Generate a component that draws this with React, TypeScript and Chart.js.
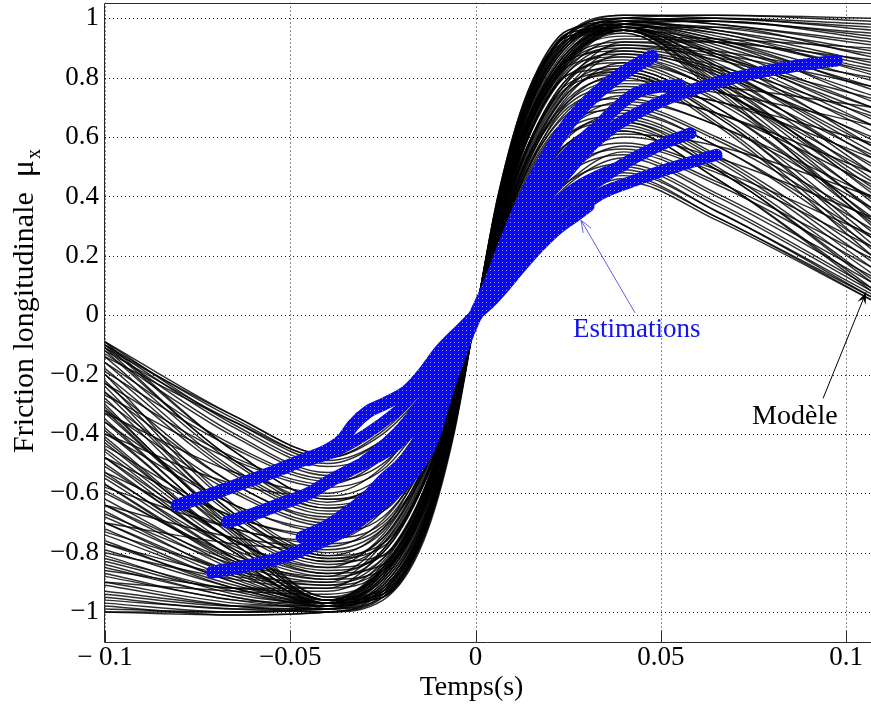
import React, { useEffect, useRef } from 'react';
import { Chart, registerables } from 'chart.js';

Chart.register(...registerables);

const X_MIN = -0.1;
const X_MAX = 0.10668;
const Y_MIN = -1.1044;
const Y_MAX = 1.0532;

const X_TICKS = [-0.1, -0.05, 0, 0.05, 0.1];
const X_TICK_LABELS = ['\u2212 0.1', '\u22120.05', '0', '0.05', '0.1'];
const Y_TICKS = [-1, -0.8, -0.6, -0.4, -0.2, 0, 0.2, 0.4, 0.6, 0.8, 1];
const Y_TICK_LABELS = ['\u22121', '\u22120.8', '\u22120.6', '\u22120.4', '\u22120.2', '0', '0.2', '0.4', '0.6', '0.8', '1'];

const X_TITLE = 'Temps(s)';
const Y_TITLE = 'Friction longitudinale  ';
const Y_TITLE_SYMBOL = '\u03bc';
const Y_TITLE_SUB = 'x';
const EST_LABEL = 'Estimations';
const MODEL_LABEL = 'Mod\u00e8le';

// every model curve passes through the origin
const ORIGIN = [0, 0];

// model curves, left half: y at these x (then the origin)
const MODEL_LEFT_X = [-0.1, -0.065, -0.04, -0.025, -0.014, -0.006];
const MODEL_LEFT = [
  [-1.00, -1.01, -1.00, -0.94, -0.73, -0.38],
  [-1.00, -1.00, -0.99, -0.90, -0.68, -0.34],
  [-0.99, -1.00, -0.98, -0.87, -0.63, -0.30],
  [-0.98, -1.01, -1.00, -0.95, -0.75, -0.40],
  [-0.97, -1.00, -0.97, -0.85, -0.61, -0.29],
  [-0.96, -0.99, -1.00, -0.93, -0.72, -0.37],
  [-0.95, -0.99, -0.99, -0.91, -0.69, -0.35],
  [-0.94, -0.98, -0.98, -0.88, -0.65, -0.32],
  [-0.93, -0.98, -1.00, -0.96, -0.76, -0.41],
  [-0.91, -0.98, -0.99, -0.92, -0.71, -0.36],
  [-0.90, -0.97, -0.98, -0.89, -0.66, -0.33],
  [-0.88, -0.96, -0.99, -0.95, -0.74, -0.39],
  [-0.87, -0.96, -0.97, -0.85, -0.60, -0.28],
  [-0.85, -0.95, -0.99, -0.93, -0.72, -0.37],
  [-0.84, -0.95, -0.98, -0.90, -0.67, -0.33],
  [-0.82, -0.93, -0.98, -0.94, -0.74, -0.39],
  [-0.81, -0.94, -0.97, -0.86, -0.62, -0.30],
  [-0.79, -0.92, -0.98, -0.92, -0.70, -0.35],
  [-0.77, -0.91, -0.97, -0.95, -0.75, -0.40],
  [-0.76, -0.92, -0.97, -0.88, -0.64, -0.31],
  [-0.74, -0.90, -0.98, -0.93, -0.71, -0.36],
  [-0.72, -0.90, -0.96, -0.84, -0.59, -0.28],
  [-0.70, -0.89, -0.97, -0.91, -0.68, -0.34],
  [-0.68, -0.87, -0.97, -0.95, -0.73, -0.38],
  [-0.66, -0.88, -0.97, -0.87, -0.63, -0.31],
  [-0.64, -0.86, -0.98, -0.92, -0.70, -0.35],
  [-0.62, -0.85, -0.97, -0.89, -0.66, -0.33],
  [-0.59, -0.83, -0.97, -0.95, -0.74, -0.39],
  [-0.57, -0.84, -0.96, -0.85, -0.61, -0.29],
  [-0.55, -0.82, -0.97, -0.93, -0.71, -0.36],
  [-0.53, -0.82, -0.97, -0.88, -0.65, -0.32],
  [-0.50, -0.80, -0.96, -0.94, -0.73, -0.37],
  [-0.48, -0.80, -0.96, -0.86, -0.62, -0.30],
  [-0.46, -0.79, -0.97, -0.91, -0.69, -0.34],
  [-0.43, -0.77, -0.96, -0.94, -0.72, -0.38],
  [-0.41, -0.77, -0.96, -0.87, -0.64, -0.31],
  [-0.38, -0.75, -0.96, -0.92, -0.70, -0.35],
  [-0.35, -0.74, -0.96, -0.89, -0.66, -0.33],
  [-0.32, -0.72, -0.95, -0.93, -0.72, -0.37],
  [-0.30, -0.73, -0.95, -0.86, -0.62, -0.30],
  [-0.90, -0.93, -0.94, -0.87, -0.66, -0.34],
  [-0.86, -0.92, -0.93, -0.83, -0.60, -0.30],
  [-0.83, -0.92, -0.92, -0.79, -0.56, -0.27],
  [-0.80, -0.89, -0.92, -0.86, -0.65, -0.33],
  [-0.77, -0.88, -0.91, -0.82, -0.59, -0.29],
  [-0.73, -0.86, -0.91, -0.85, -0.63, -0.32],
  [-0.70, -0.87, -0.90, -0.77, -0.54, -0.26],
  [-0.67, -0.84, -0.90, -0.84, -0.62, -0.31],
  [-0.64, -0.83, -0.89, -0.80, -0.57, -0.28],
  [-0.60, -0.81, -0.89, -0.86, -0.64, -0.33],
  [-0.57, -0.82, -0.88, -0.76, -0.53, -0.25],
  [-0.54, -0.79, -0.88, -0.82, -0.60, -0.30],
  [-0.51, -0.78, -0.87, -0.79, -0.56, -0.27],
  [-0.48, -0.76, -0.87, -0.84, -0.62, -0.32],
  [-0.45, -0.76, -0.86, -0.80, -0.57, -0.28],
  [-0.42, -0.76, -0.85, -0.74, -0.51, -0.24],
  [-0.39, -0.73, -0.85, -0.81, -0.60, -0.30],
  [-0.36, -0.72, -0.84, -0.77, -0.55, -0.27],
  [-0.33, -0.70, -0.83, -0.81, -0.60, -0.31],
  [-0.31, -0.70, -0.83, -0.75, -0.52, -0.25],
  [-0.28, -0.68, -0.82, -0.78, -0.57, -0.29],
  [-0.26, -0.67, -0.82, -0.75, -0.53, -0.26],
  [-0.24, -0.67, -0.81, -0.72, -0.49, -0.23],
  [-0.22, -0.65, -0.81, -0.77, -0.56, -0.28],
  [-0.20, -0.64, -0.80, -0.73, -0.51, -0.25],
  [-0.70, -0.77, -0.79, -0.72, -0.53, -0.27],
  [-0.64, -0.75, -0.78, -0.69, -0.49, -0.24],
  [-0.58, -0.72, -0.77, -0.71, -0.52, -0.26],
  [-0.53, -0.72, -0.76, -0.66, -0.46, -0.22],
  [-0.48, -0.68, -0.75, -0.70, -0.50, -0.25],
  [-0.44, -0.68, -0.74, -0.65, -0.45, -0.21],
  [-0.40, -0.64, -0.73, -0.68, -0.49, -0.24],
  [-0.36, -0.64, -0.72, -0.63, -0.43, -0.20],
  [-0.32, -0.60, -0.71, -0.66, -0.47, -0.23],
  [-0.29, -0.59, -0.70, -0.63, -0.44, -0.21],
  [-0.26, -0.57, -0.69, -0.66, -0.48, -0.24],
  [-0.23, -0.57, -0.68, -0.60, -0.41, -0.19],
  [-0.20, -0.54, -0.67, -0.63, -0.45, -0.22],
  [-0.18, -0.53, -0.66, -0.61, -0.42, -0.20],
  [-0.16, -0.52, -0.65, -0.58, -0.39, -0.18],
  [-0.14, -0.50, -0.65, -0.61, -0.44, -0.21],
  [-0.12, -0.49, -0.64, -0.58, -0.40, -0.19],
  [-0.11, -0.49, -0.63, -0.55, -0.37, -0.17],
  [-0.10, -0.46, -0.62, -0.58, -0.41, -0.20],
  [-0.09, -0.46, -0.62, -0.56, -0.38, -0.18],
  [-0.40, -0.57, -0.61, -0.54, -0.36, -0.17],
  [-0.33, -0.53, -0.60, -0.51, -0.33, -0.15],
  [-0.27, -0.49, -0.58, -0.52, -0.35, -0.17],
  [-0.23, -0.48, -0.57, -0.48, -0.31, -0.14],
  [-0.19, -0.45, -0.56, -0.50, -0.34, -0.16],
  [-0.16, -0.44, -0.55, -0.45, -0.29, -0.13],
  [-0.13, -0.41, -0.54, -0.48, -0.32, -0.15],
  [-0.11, -0.40, -0.53, -0.44, -0.28, -0.13],
  [-0.10, -0.38, -0.51, -0.45, -0.30, -0.14],
  [-0.09, -0.37, -0.50, -0.42, -0.27, -0.12],
  [-0.12, -0.36, -0.49, -0.42, -0.28, -0.13],
  [-0.10, -0.35, -0.48, -0.39, -0.25, -0.11],
  [-0.14, -0.36, -0.48, -0.40, -0.26, -0.12],
  [-0.09, -0.34, -0.47, -0.38, -0.24, -0.11],
  [-0.11, -0.34, -0.47, -0.37, -0.24, -0.10],
];

// model curves, right half: the origin, then y at these x
const MODEL_RIGHT_X = [0.006, 0.014, 0.025, 0.04, 0.065, 0.107];
const MODEL_RIGHT = [
  [0.40, 0.75, 0.95, 1.01, 1.01, 1.00],
  [0.36, 0.70, 0.92, 1.00, 1.01, 0.99],
  [0.33, 0.66, 0.89, 0.99, 1.00, 0.98],
  [0.38, 0.73, 0.94, 1.01, 1.00, 0.97],
  [0.30, 0.62, 0.86, 0.98, 1.00, 0.96],
  [0.39, 0.74, 0.95, 1.00, 0.99, 0.95],
  [0.34, 0.68, 0.91, 0.99, 0.99, 0.94],
  [0.31, 0.63, 0.87, 0.98, 0.99, 0.93],
  [0.37, 0.72, 0.95, 1.00, 0.98, 0.92],
  [0.35, 0.69, 0.92, 1.00, 0.98, 0.91],
  [0.32, 0.65, 0.88, 0.98, 0.97, 0.89],
  [0.40, 0.75, 0.96, 0.99, 0.96, 0.88],
  [0.29, 0.60, 0.85, 0.97, 0.97, 0.87],
  [0.36, 0.71, 0.93, 0.99, 0.96, 0.85],
  [0.33, 0.67, 0.90, 0.99, 0.95, 0.84],
  [0.38, 0.73, 0.95, 0.99, 0.94, 0.82],
  [0.30, 0.62, 0.86, 0.97, 0.95, 0.81],
  [0.35, 0.69, 0.92, 0.98, 0.93, 0.79],
  [0.39, 0.74, 0.96, 0.98, 0.92, 0.77],
  [0.32, 0.64, 0.88, 0.98, 0.93, 0.76],
  [0.36, 0.70, 0.93, 0.98, 0.91, 0.74],
  [0.28, 0.59, 0.84, 0.96, 0.92, 0.72],
  [0.34, 0.68, 0.91, 0.98, 0.90, 0.70],
  [0.38, 0.72, 0.95, 0.97, 0.88, 0.68],
  [0.31, 0.63, 0.87, 0.97, 0.89, 0.66],
  [0.35, 0.70, 0.92, 0.98, 0.88, 0.64],
  [0.33, 0.66, 0.89, 0.97, 0.87, 0.62],
  [0.39, 0.73, 0.95, 0.97, 0.85, 0.59],
  [0.29, 0.61, 0.85, 0.96, 0.87, 0.57],
  [0.36, 0.71, 0.93, 0.97, 0.84, 0.55],
  [0.32, 0.65, 0.88, 0.97, 0.84, 0.53],
  [0.37, 0.72, 0.94, 0.96, 0.82, 0.50],
  [0.30, 0.62, 0.86, 0.96, 0.83, 0.48],
  [0.34, 0.68, 0.91, 0.97, 0.81, 0.46],
  [0.38, 0.72, 0.94, 0.96, 0.79, 0.43],
  [0.31, 0.64, 0.87, 0.96, 0.80, 0.41],
  [0.35, 0.69, 0.92, 0.96, 0.78, 0.38],
  [0.33, 0.66, 0.89, 0.96, 0.77, 0.35],
  [0.37, 0.71, 0.93, 0.95, 0.75, 0.32],
  [0.30, 0.62, 0.86, 0.95, 0.76, 0.30],
  [0.34, 0.66, 0.87, 0.94, 0.93, 0.90],
  [0.30, 0.60, 0.83, 0.93, 0.92, 0.86],
  [0.27, 0.56, 0.79, 0.92, 0.92, 0.83],
  [0.33, 0.65, 0.86, 0.92, 0.89, 0.80],
  [0.29, 0.59, 0.82, 0.91, 0.88, 0.77],
  [0.32, 0.63, 0.85, 0.91, 0.86, 0.73],
  [0.26, 0.54, 0.77, 0.90, 0.87, 0.70],
  [0.31, 0.62, 0.84, 0.90, 0.84, 0.67],
  [0.28, 0.57, 0.80, 0.89, 0.83, 0.64],
  [0.33, 0.64, 0.86, 0.89, 0.81, 0.60],
  [0.25, 0.53, 0.76, 0.88, 0.82, 0.57],
  [0.30, 0.60, 0.82, 0.88, 0.79, 0.54],
  [0.27, 0.56, 0.79, 0.87, 0.78, 0.51],
  [0.32, 0.62, 0.84, 0.87, 0.76, 0.48],
  [0.28, 0.57, 0.80, 0.86, 0.76, 0.45],
  [0.24, 0.51, 0.74, 0.85, 0.76, 0.42],
  [0.30, 0.60, 0.81, 0.85, 0.73, 0.39],
  [0.27, 0.55, 0.77, 0.84, 0.72, 0.36],
  [0.31, 0.60, 0.81, 0.83, 0.70, 0.33],
  [0.25, 0.52, 0.75, 0.83, 0.70, 0.31],
  [0.29, 0.57, 0.78, 0.82, 0.68, 0.28],
  [0.26, 0.53, 0.75, 0.82, 0.67, 0.26],
  [0.23, 0.49, 0.72, 0.81, 0.67, 0.24],
  [0.28, 0.56, 0.77, 0.81, 0.65, 0.22],
  [0.25, 0.51, 0.73, 0.80, 0.64, 0.20],
  [0.27, 0.53, 0.72, 0.79, 0.77, 0.70],
  [0.24, 0.49, 0.69, 0.78, 0.75, 0.64],
  [0.26, 0.52, 0.71, 0.77, 0.72, 0.58],
  [0.22, 0.46, 0.66, 0.76, 0.72, 0.53],
  [0.25, 0.50, 0.70, 0.75, 0.68, 0.48],
  [0.21, 0.45, 0.65, 0.74, 0.68, 0.44],
  [0.24, 0.49, 0.68, 0.73, 0.64, 0.40],
  [0.20, 0.43, 0.63, 0.72, 0.64, 0.36],
  [0.23, 0.47, 0.66, 0.71, 0.60, 0.32],
  [0.21, 0.44, 0.63, 0.70, 0.59, 0.29],
  [0.24, 0.48, 0.66, 0.69, 0.57, 0.26],
  [0.19, 0.41, 0.60, 0.68, 0.57, 0.23],
  [0.22, 0.45, 0.63, 0.67, 0.54, 0.20],
  [0.20, 0.42, 0.61, 0.66, 0.53, 0.18],
  [0.18, 0.39, 0.58, 0.65, 0.52, 0.16],
  [0.21, 0.44, 0.61, 0.65, 0.50, 0.14],
  [0.19, 0.40, 0.58, 0.64, 0.49, 0.12],
  [0.17, 0.37, 0.55, 0.63, 0.49, 0.11],
  [0.20, 0.41, 0.58, 0.62, 0.46, 0.09],
  [0.18, 0.38, 0.56, 0.62, 0.46, 0.08],
  [0.17, 0.36, 0.54, 0.61, 0.57, 0.40],
  [0.15, 0.33, 0.51, 0.60, 0.53, 0.33],
  [0.17, 0.35, 0.52, 0.58, 0.49, 0.27],
  [0.14, 0.31, 0.48, 0.57, 0.48, 0.23],
  [0.16, 0.34, 0.50, 0.56, 0.45, 0.19],
  [0.13, 0.29, 0.45, 0.55, 0.44, 0.16],
  [0.15, 0.32, 0.48, 0.54, 0.41, 0.13],
  [0.13, 0.28, 0.44, 0.53, 0.40, 0.11],
  [0.14, 0.30, 0.45, 0.51, 0.38, 0.09],
  [0.12, 0.27, 0.42, 0.50, 0.37, 0.08],
  [0.13, 0.28, 0.42, 0.49, 0.35, 0.07],
  [0.11, 0.25, 0.39, 0.48, 0.35, 0.06],
  [0.12, 0.26, 0.40, 0.47, 0.33, 0.06],
  [0.11, 0.24, 0.37, 0.46, 0.33, 0.05],
  [0.10, 0.23, 0.36, 0.45, 0.32, 0.05],
];

// estimation trajectories, [x, y]
const EST_R1 = [[0, 0], [0.004, 0.11], [0.008, 0.24], [0.012, 0.36], [0.016, 0.46], [0.021, 0.57], [0.026, 0.66], [0.032, 0.74], [0.038, 0.8], [0.043, 0.84], [0.0475, 0.87]];
const EST_R2 = [[0, 0], [0.004, 0.09], [0.009, 0.2], [0.014, 0.3], [0.02, 0.41], [0.026, 0.5], [0.032, 0.58], [0.038, 0.64], [0.045, 0.69], [0.052, 0.73], [0.06, 0.765], [0.07, 0.8], [0.08, 0.826], [0.09, 0.846], [0.0975, 0.858]];
const EST_R2A = [[0, 0], [0.005, 0.1], [0.01, 0.2], [0.0157, 0.33], [0.022, 0.46], [0.028, 0.57], [0.034, 0.65], [0.039, 0.71], [0.0435, 0.75], [0.05, 0.77], [0.055, 0.775]];
const EST_R3 = [[0, 0], [0.005, 0.1], [0.01, 0.2], [0.016, 0.29], [0.022, 0.36], [0.028, 0.41], [0.034, 0.46], [0.04, 0.51], [0.046, 0.55], [0.052, 0.585], [0.058, 0.612]];
const EST_R4 = [[0, 0], [0.005, 0.09], [0.01, 0.17], [0.016, 0.25], [0.022, 0.31], [0.028, 0.36], [0.034, 0.41], [0.042, 0.45], [0.05, 0.485], [0.058, 0.515], [0.065, 0.54]];
const EST_R5 = [[0, 0], [0.004, 0.045], [0.008, 0.1], [0.012, 0.16], [0.017, 0.23], [0.022, 0.29], [0.027, 0.335], [0.0305, 0.368]];
const EST_R6 = [[0, 0], [0.004, 0.1], [0.008, 0.21], [0.012, 0.31], [0.016, 0.4], [0.021, 0.49], [0.026, 0.56], [0.03, 0.605], [0.034, 0.645]];
const EST_R7 = [[0, 0], [0.005, 0.1], [0.01, 0.19], [0.015, 0.27], [0.02, 0.35], [0.025, 0.41], [0.03, 0.45], [0.035, 0.48], [0.04, 0.505]];
const EST_L1 = [[-0.0805, -0.64], [-0.073, -0.61], [-0.065, -0.575], [-0.055, -0.53], [-0.046, -0.485], [-0.04, -0.455], [-0.036, -0.42], [-0.033, -0.37], [-0.029, -0.325], [-0.0249, -0.3], [-0.0184, -0.255], [-0.014, -0.195], [-0.0095, -0.12], [-0.004, -0.05], [0, 0]];
const EST_L1B = [[-0.045, -0.49], [-0.038, -0.46], [-0.032, -0.42], [-0.026, -0.37], [-0.02, -0.31], [-0.015, -0.24], [-0.01, -0.16], [-0.005, -0.08], [0, 0]];
const EST_L2 = [[-0.067, -0.697], [-0.06, -0.67], [-0.052, -0.633], [-0.045, -0.6], [-0.039, -0.556], [-0.032, -0.51], [-0.025, -0.465], [-0.02, -0.42], [-0.0157, -0.354], [-0.0115, -0.25], [-0.008, -0.16], [-0.004, -0.08], [0, 0]];
const EST_L3 = [[-0.0468, -0.748], [-0.04, -0.71], [-0.0338, -0.657], [-0.029, -0.61], [-0.0249, -0.556], [-0.02, -0.5], [-0.0157, -0.431], [-0.012, -0.3], [-0.008, -0.19], [-0.004, -0.09], [0, 0]];
const EST_L4 = [[-0.0711, -0.866], [-0.062, -0.845], [-0.052, -0.815], [-0.042, -0.765], [-0.0338, -0.714], [-0.027, -0.65], [-0.0203, -0.579], [-0.015, -0.5], [-0.0114, -0.411], [-0.008, -0.27], [-0.004, -0.12], [0, 0]];
const EST_L5 = [[-0.032, -0.51], [-0.025, -0.44], [-0.02, -0.38], [-0.015, -0.3], [-0.01, -0.2], [-0.005, -0.1], [0, 0]];
const EST_L6 = [[-0.036, -0.69], [-0.028, -0.62], [-0.022, -0.55], [-0.016, -0.46], [-0.011, -0.35], [-0.006, -0.2], [0, 0]];
const ESTIMATIONS = [EST_R1, EST_R2, EST_R2A, EST_R3, EST_R4, EST_R5, EST_R6, EST_R7, EST_L1, EST_L1B, EST_L2, EST_L3, EST_L4, EST_L5, EST_L6];
// band thickness (style) for each trajectory above, px
const EST_WIDTHS = [14, 12, 12, 12, 12, 12, 12, 12, 13, 11, 13, 13, 13, 11, 11];

// annotation anchors in data units
const EST_ARROW_FROM = [0.04304, 0.0072];
const EST_ARROW_TO = [0.02844, 0.32];
const EST_LABEL_AT = [0.02628, -0.0736];
const MODEL_ARROW_FROM = [0.09375, -0.2802];
const MODEL_ARROW_TO = [0.10535, 0.077];
const MODEL_LABEL_AT = [0.0746, -0.3667];

const SERIF = '"Liberation Serif", "Times New Roman", serif';

function drawArrow(ctx: CanvasRenderingContext2D, x1: number, y1: number, x2: number, y2: number, filled: boolean, color: string, len: number, halfW: number) {
  ctx.save();
  ctx.strokeStyle = color;
  ctx.fillStyle = color;
  ctx.lineWidth = 1;
  ctx.beginPath();
  ctx.moveTo(x1, y1);
  ctx.lineTo(x2, y2);
  ctx.stroke();
  const ang = Math.atan2(y2 - y1, x2 - x1);
  const bx = x2 - len * Math.cos(ang);
  const by = y2 - len * Math.sin(ang);
  const nx = -Math.sin(ang) * halfW;
  const ny = Math.cos(ang) * halfW;
  ctx.beginPath();
  ctx.moveTo(bx + nx, by + ny);
  ctx.lineTo(x2, y2);
  ctx.lineTo(bx - nx, by - ny);
  if (filled) {
    ctx.lineTo(x2 - len * 0.6 * Math.cos(ang), y2 - len * 0.6 * Math.sin(ang));
    ctx.closePath();
    ctx.fill();
  } else {
    ctx.stroke();
  }
  ctx.restore();
}

const overlayPlugin = {
  id: 'overlay',
  beforeDatasetsDraw(chart: any) {
    const { ctx, chartArea: a, scales } = chart;
    const xs = scales.x;
    const ys = scales.y;
    ctx.save();
    ctx.beginPath();
    ctx.rect(a.left, a.top, a.right - a.left, a.bottom - a.top);
    ctx.clip();
    ctx.strokeStyle = '#1a1a1a';
    ctx.lineWidth = 1;
    ctx.setLineDash([1, 3]);
    X_TICKS.forEach((v) => {
      const px = Math.round(xs.getPixelForValue(v)) + 0.5;
      ctx.beginPath();
      ctx.moveTo(px, a.top);
      ctx.lineTo(px, a.bottom);
      ctx.stroke();
    });
    Y_TICKS.forEach((v) => {
      const py = Math.round(ys.getPixelForValue(v)) + 0.5;
      ctx.beginPath();
      ctx.moveTo(a.left, py);
      ctx.lineTo(a.right, py);
      ctx.stroke();
    });
    ctx.restore();
  },
  afterDatasetsDraw(chart: any) {
    const { ctx, chartArea: a, scales } = chart;
    const xs = scales.x;
    const ys = scales.y;
    const P = (p: number[]) => [xs.getPixelForValue(p[0]), ys.getPixelForValue(p[1])];

    const ef = P(EST_ARROW_FROM);
    const et = P(EST_ARROW_TO);
    drawArrow(ctx, ef[0], ef[1], et[0], et[1], false, 'rgb(95,95,225)', 12, 4.5);
    const mf = P(MODEL_ARROW_FROM);
    const mt = P(MODEL_ARROW_TO);
    drawArrow(ctx, mf[0], mf[1], mt[0], mt[1], true, '#000', 12, 4.5);

    ctx.save();
    ctx.textAlign = 'left';
    ctx.textBaseline = 'alphabetic';
    ctx.font = `27px ${SERIF}`;
    ctx.fillStyle = 'rgb(20,20,235)';
    const el = P(EST_LABEL_AT);
    ctx.fillText(EST_LABEL, el[0], el[1]);
    ctx.fillStyle = '#000';
    const ml = P(MODEL_LABEL_AT);
    ctx.font = `28px ${SERIF}`;
    ctx.fillText(MODEL_LABEL, ml[0], ml[1]);
    ctx.restore();

    ctx.save();
    ctx.strokeStyle = '#2a2a2a';
    ctx.lineWidth = 1;
    const L = Math.round(a.left) - 0.5;
    const B = Math.round(a.bottom) - 0.5;
    const T = Math.round(a.top) + 0.5;
    ctx.beginPath();
    ctx.moveTo(a.right, T);
    ctx.lineTo(L, T);
    ctx.lineTo(L, B);
    ctx.lineTo(a.right, B);
    ctx.stroke();
    X_TICKS.forEach((v) => {
      const px = Math.round(xs.getPixelForValue(v)) + 0.5;
      ctx.beginPath();
      ctx.moveTo(px, B);
      ctx.lineTo(px, B - 12);
      ctx.stroke();
    });
    ctx.restore();

    ctx.save();
    ctx.fillStyle = '#000';
    ctx.font = `28px ${SERIF}`;
    ctx.textAlign = 'center';
    ctx.textBaseline = 'alphabetic';
    ctx.fillText(X_TITLE, xs.getPixelForValue(-0.0011), 695);
    ctx.restore();

    ctx.save();
    ctx.fillStyle = '#000';
    ctx.translate(33, 453);
    ctx.rotate(-Math.PI / 2);
    ctx.textAlign = 'left';
    ctx.textBaseline = 'alphabetic';
    ctx.font = `30px ${SERIF}`;
    ctx.fillText(Y_TITLE, 0, 0);
    let w = ctx.measureText(Y_TITLE).width;
    ctx.font = `32px ${SERIF}`;
    ctx.fillText(Y_TITLE_SYMBOL, w, 0);
    w += ctx.measureText(Y_TITLE_SYMBOL).width;
    ctx.font = `20px ${SERIF}`;
    ctx.fillText(Y_TITLE_SUB, w + 1, 7);
    ctx.restore();
  },
};

export default function App() {
  const ref = useRef<HTMLCanvasElement | null>(null);

  useEffect(() => {
    const canvas = ref.current;
    if (!canvas) return;
    const ctx = canvas.getContext('2d');
    if (!ctx) return;

    const tile = document.createElement('canvas');
    tile.width = 4;
    tile.height = 4;
    const tctx = tile.getContext('2d')!;
    tctx.fillStyle = 'rgb(8,8,245)';
    tctx.fillRect(0, 0, 4, 4);
    tctx.fillStyle = 'rgb(150,150,255)';
    tctx.fillRect(2, 2, 1, 1);
    const bluePattern = ctx.createPattern(tile, 'repeat') || 'rgb(8,8,245)';

    const datasets: any[] = [];
    ESTIMATIONS.forEach((traj, k) => {
      datasets.push({
        data: traj.map(([x, y]) => ({ x, y })),
        borderColor: bluePattern,
        borderWidth: EST_WIDTHS[k],
        borderCapStyle: 'round',
        borderJoinStyle: 'round',
        pointRadius: 0,
        cubicInterpolationMode: 'monotone',
        fill: false,
        order: 0,
      });
    });
    const modelStyle = {
      borderColor: 'rgba(0,0,0,0.82)',
      borderWidth: 1.45,
      pointRadius: 0,
      cubicInterpolationMode: 'monotone',
      fill: false,
      order: 1,
    };
    MODEL_LEFT.forEach((row) => {
      datasets.push({
        ...modelStyle,
        data: [...row.map((y, i) => ({ x: MODEL_LEFT_X[i], y })), { x: ORIGIN[0], y: ORIGIN[1] }],
      });
    });
    MODEL_RIGHT.forEach((row) => {
      datasets.push({
        ...modelStyle,
        data: [{ x: ORIGIN[0], y: ORIGIN[1] }, ...row.map((y, i) => ({ x: MODEL_RIGHT_X[i], y }))],
      });
    });

    const chart = new Chart(ctx, {
      type: 'line',
      data: { datasets },
      options: {
        animation: false,
        responsive: false,
        maintainAspectRatio: false,
        devicePixelRatio: 1,
        events: [],
        layout: { padding: { top: 2.5, left: 0, right: 0, bottom: 0 } },
        plugins: { legend: { display: false }, tooltip: { enabled: false }, title: { display: false } },
        scales: {
          x: {
            type: 'linear',
            min: X_MIN,
            max: X_MAX,
            afterBuildTicks: (s: any) => {
              s.ticks = X_TICKS.map((v) => ({ value: v }));
            },
            afterFit: (s: any) => {
              s.height = 68;
              s.paddingLeft = 0;
              s.paddingRight = 0;
              s.paddingTop = 0;
              s.paddingBottom = 0;
            },
            grid: { display: false, drawTicks: false },
            border: { display: false },
            ticks: {
              autoSkip: false,
              maxRotation: 0,
              padding: -1,
              color: '#000',
              font: { family: SERIF, size: 27 },
              callback: (_v: any, i: number) => X_TICK_LABELS[i],
            },
          },
          y: {
            type: 'linear',
            min: Y_MIN,
            max: Y_MAX,
            afterBuildTicks: (s: any) => {
              s.ticks = Y_TICKS.map((v) => ({ value: v }));
            },
            afterFit: (s: any) => {
              s.width = 105;
              s.paddingLeft = 0;
              s.paddingRight = 0;
              s.paddingTop = 0;
              s.paddingBottom = 0;
            },
            grid: { display: false, drawTicks: false },
            border: { display: false },
            ticks: {
              autoSkip: false,
              padding: 6,
              color: '#000',
              font: { family: SERIF, size: 27 },
              callback: (_v: any, i: number) => Y_TICK_LABELS[i],
            },
          },
        },
      },
      plugins: [overlayPlugin],
    } as any);

    return () => chart.destroy();
  }, []);

  return (
    <canvas
      ref={ref}
      width={871}
      height={711}
      style={{ position: 'fixed', left: 0, top: 0, width: '871px', height: '711px', background: '#fff' }}
    />
  );
}
